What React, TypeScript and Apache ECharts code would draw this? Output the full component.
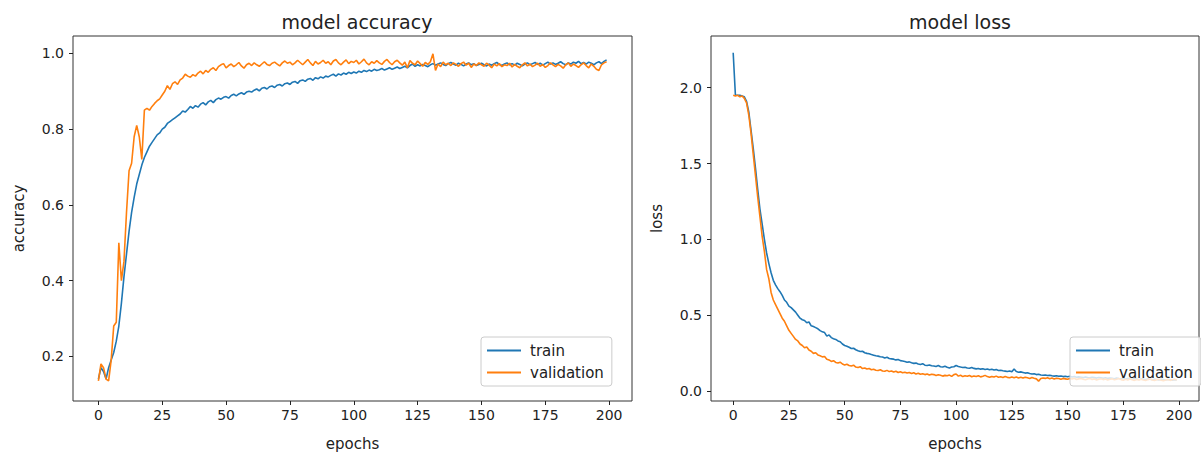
import React, { useEffect, useRef } from "react";
import * as echarts from "echarts";

const seriesNames = ["train", "validation"];
const xTicks = [0, 25, 50, 75, 100, 125, 150, 175, 200];
const accTicks = [0.2, 0.4, 0.6, 0.8, 1.0];
const lossTicks = [0.0, 0.5, 1.0, 1.5, 2.0];

const trainAcc = [
  0.14, 0.17, 0.16, 0.14, 0.17, 0.19, 0.21, 0.24, 0.28, 0.34,
  0.41, 0.47, 0.53, 0.58, 0.62, 0.655, 0.68, 0.705, 0.725, 0.74,
  0.755, 0.765, 0.775, 0.785, 0.79, 0.8, 0.805, 0.815, 0.82, 0.825,
  0.83, 0.835, 0.84, 0.848, 0.845, 0.852, 0.86, 0.855, 0.862, 0.858,
  0.866, 0.87, 0.864, 0.872, 0.876, 0.87, 0.878, 0.882, 0.879, 0.884,
  0.886, 0.882, 0.889, 0.892, 0.888, 0.893, 0.896, 0.892, 0.898, 0.9,
  0.898, 0.903, 0.906, 0.901, 0.908, 0.91, 0.906, 0.912, 0.914, 0.91,
  0.916, 0.918, 0.914, 0.92, 0.922, 0.918, 0.924, 0.926, 0.921, 0.928,
  0.93, 0.926, 0.932, 0.934, 0.929, 0.936, 0.933, 0.938, 0.935, 0.94,
  0.938, 0.942, 0.945, 0.94, 0.946, 0.943, 0.948, 0.945, 0.95, 0.947,
  0.951, 0.948, 0.953, 0.95, 0.955, 0.952, 0.956, 0.953, 0.958, 0.955,
  0.957, 0.96, 0.956, 0.959, 0.962, 0.958, 0.961, 0.964, 0.96, 0.963,
  0.966, 0.962, 0.968, 0.972, 0.966, 0.97, 0.967, 0.971, 0.968, 0.965,
  0.97, 0.973, 0.969, 0.972, 0.975, 0.971, 0.968, 0.973, 0.976, 0.972,
  0.969, 0.974, 0.971, 0.967, 0.972, 0.975, 0.97, 0.973, 0.968, 0.971,
  0.974, 0.97, 0.967, 0.972, 0.969, 0.973, 0.976, 0.971, 0.968, 0.972,
  0.975, 0.97, 0.973, 0.969, 0.974, 0.971, 0.967, 0.972, 0.975, 0.97,
  0.973, 0.976, 0.971, 0.974, 0.969, 0.973, 0.977, 0.972, 0.975, 0.971,
  0.974, 0.978, 0.973, 0.97, 0.975, 0.972, 0.977, 0.974, 0.979, 0.973,
  0.976, 0.972, 0.977, 0.974, 0.97, 0.975, 0.978, 0.973, 0.979, 0.983,
];

const valAcc = [
  0.135, 0.18, 0.17, 0.14, 0.135, 0.19, 0.28, 0.29, 0.5, 0.4,
  0.45, 0.58, 0.69, 0.71, 0.78, 0.81, 0.78, 0.72, 0.85, 0.855,
  0.85, 0.86, 0.868, 0.875, 0.88, 0.89, 0.9, 0.915, 0.905, 0.92,
  0.925, 0.918, 0.93, 0.935, 0.945, 0.94, 0.937, 0.944, 0.94, 0.948,
  0.953, 0.946, 0.955, 0.95, 0.958, 0.962, 0.955, 0.965, 0.97, 0.973,
  0.962, 0.968, 0.972, 0.965, 0.97, 0.976, 0.967, 0.961, 0.97, 0.974,
  0.968, 0.975, 0.97, 0.966, 0.972, 0.978, 0.971, 0.968, 0.974, 0.977,
  0.972, 0.967, 0.975, 0.98, 0.974, 0.977, 0.97, 0.975, 0.982, 0.976,
  0.97, 0.977, 0.984, 0.975, 0.968, 0.979, 0.972, 0.976, 0.982, 0.974,
  0.978, 0.97, 0.98, 0.984, 0.975, 0.97, 0.977, 0.983, 0.973, 0.979,
  0.976, 0.982, 0.972, 0.978, 0.985, 0.975, 0.97, 0.978, 0.974, 0.981,
  0.975, 0.971, 0.979, 0.984, 0.976, 0.97, 0.978, 0.982, 0.975, 0.969,
  0.977, 0.962, 0.981, 0.974, 0.97, 0.98, 0.973, 0.966, 0.976, 0.971,
  0.978, 0.999, 0.955, 0.972, 0.965, 0.977, 0.97, 0.974, 0.968, 0.975,
  0.971, 0.966, 0.973, 0.977, 0.969, 0.974, 0.963, 0.972, 0.968, 0.975,
  0.97, 0.966, 0.974, 0.969, 0.962, 0.972, 0.967, 0.973, 0.965, 0.97,
  0.968, 0.974, 0.964, 0.971, 0.966, 0.962, 0.97, 0.975, 0.967, 0.972,
  0.965, 0.969, 0.974, 0.966, 0.971, 0.963, 0.968, 0.975, 0.97, 0.965,
  0.971, 0.967, 0.961, 0.97, 0.975, 0.966, 0.972, 0.968, 0.963, 0.97,
  0.975, 0.968, 0.962, 0.972, 0.966, 0.958, 0.955, 0.97, 0.975, 0.978,
];

const trainLoss = [
  2.23, 1.95, 1.95, 1.95, 1.945, 1.94, 1.91, 1.84, 1.72, 1.6,
  1.47, 1.33, 1.2, 1.1, 1.0, 0.91, 0.84, 0.78, 0.73, 0.7,
  0.675, 0.655, 0.63, 0.6, 0.585, 0.56, 0.55, 0.535, 0.52, 0.5,
  0.48, 0.47, 0.465, 0.45, 0.455, 0.43, 0.425, 0.418, 0.41, 0.398,
  0.39, 0.385, 0.362, 0.37, 0.352, 0.345, 0.34, 0.33, 0.325, 0.31,
  0.3, 0.295, 0.288, 0.28, 0.282, 0.272, 0.265, 0.26, 0.262, 0.252,
  0.248, 0.245, 0.24, 0.236, 0.232, 0.23, 0.226, 0.224, 0.218, 0.222,
  0.214, 0.212, 0.21, 0.205, 0.208, 0.2, 0.198, 0.195, 0.19, 0.192,
  0.186, 0.182, 0.184, 0.178, 0.175, 0.18, 0.17, 0.168, 0.172, 0.166,
  0.165, 0.162, 0.168, 0.16, 0.158, 0.163, 0.156, 0.152, 0.158, 0.16,
  0.168, 0.162, 0.158, 0.155, 0.157, 0.152, 0.15, 0.155, 0.149, 0.146,
  0.148, 0.144, 0.147, 0.142, 0.145, 0.14, 0.143, 0.138, 0.141, 0.135,
  0.137, 0.133, 0.131, 0.128, 0.132, 0.127, 0.145, 0.128, 0.124, 0.126,
  0.122, 0.118, 0.12, 0.115, 0.112, 0.113, 0.108, 0.11, 0.105, 0.104,
  0.106, 0.102, 0.104, 0.1, 0.098, 0.101, 0.097, 0.099, 0.095, 0.097,
  0.094, 0.097, 0.092, 0.095, 0.09, 0.093, 0.091, 0.088, 0.092, 0.089,
  0.087, 0.091, 0.088, 0.085, 0.089, 0.087, 0.084, 0.088, 0.083, 0.086,
  0.084, 0.081, 0.085, 0.082, 0.08, 0.084, 0.079, 0.083, 0.08, 0.078,
  0.082, 0.079, 0.076, 0.08, 0.078, 0.075, 0.079, 0.077, 0.074, 0.078,
  0.076, 0.073, 0.077, 0.075, 0.072, 0.076, 0.074, 0.071, 0.075, 0.072,
];

const valLoss = [
  1.95, 1.945, 1.95, 1.94, 1.945, 1.93, 1.9, 1.82, 1.7, 1.56,
  1.42, 1.28, 1.15, 1.02, 0.92, 0.8, 0.74, 0.65, 0.6, 0.57,
  0.54, 0.51, 0.48, 0.46, 0.43, 0.4, 0.38, 0.36, 0.34, 0.33,
  0.31, 0.3, 0.285, 0.29, 0.27, 0.262, 0.248, 0.252, 0.238, 0.232,
  0.225, 0.228, 0.21, 0.205, 0.195, 0.2, 0.188, 0.185, 0.19, 0.178,
  0.172, 0.176, 0.168, 0.165, 0.17, 0.158, 0.155, 0.16, 0.148, 0.152,
  0.145, 0.148, 0.14, 0.143, 0.137, 0.135, 0.14, 0.132, 0.13, 0.136,
  0.128, 0.132, 0.125, 0.13, 0.122, 0.127, 0.12, 0.124, 0.118, 0.122,
  0.115, 0.12, 0.112, 0.117, 0.11, 0.114, 0.108, 0.112, 0.105, 0.11,
  0.108, 0.102, 0.107, 0.104, 0.098, 0.103, 0.1, 0.105, 0.096, 0.108,
  0.112, 0.098, 0.104, 0.095, 0.1, 0.097, 0.102, 0.094, 0.099, 0.096,
  0.101, 0.093, 0.097, 0.103, 0.095, 0.09, 0.096, 0.092, 0.098, 0.091,
  0.094, 0.089, 0.095, 0.09, 0.087, 0.093, 0.088, 0.092, 0.086, 0.09,
  0.085, 0.091, 0.087, 0.083, 0.089, 0.084, 0.08, 0.065, 0.082, 0.086,
  0.083, 0.087, 0.081, 0.085, 0.079, 0.084, 0.082, 0.078, 0.083, 0.08,
  0.077, 0.082, 0.079, 0.084, 0.076, 0.08, 0.083, 0.078, 0.074, 0.079,
  0.082, 0.076, 0.08, 0.073, 0.078, 0.081, 0.075, 0.079, 0.072, 0.077,
  0.08, 0.074, 0.078, 0.082, 0.075, 0.071, 0.077, 0.073, 0.079, 0.074,
  0.07, 0.076, 0.073, 0.078, 0.072, 0.069, 0.075, 0.079, 0.073, 0.07,
  0.074, 0.077, 0.071, 0.068, 0.073, 0.076, 0.07, 0.074, 0.078, 0.072,
];

const FONT = "DejaVu Sans";
const BLUE = "#1f77b4";
const ORANGE = "#ff7f0e";

function pairs(arr: number[]) {
  return arr.map((v, i) => [i, v]);
}

export default function App() {
  const ref = useRef<HTMLDivElement>(null);
  useEffect(() => {
    document.body.style.margin = "0";
    if (!ref.current) return;
    const chart = echarts.init(ref.current, null, { renderer: "svg" });

    const tickLabel = { color: "#222", fontFamily: FONT, fontSize: 14 };
    const nameStyle = { color: "#222", fontFamily: FONT, fontSize: 15 };
    const tickStyle = (values: number[]) => ({
      show: true,
      inside: false,
      length: 4,
      lineStyle: { color: "#222", width: 1 },
      customValues: values,
    });

    const xAxisBase = (gridIndex: number) => ({
      type: "value",
      gridIndex,
      min: -9.95,
      max: 208.95,
      axisLine: { show: false, onZero: false },
      splitLine: { show: false },
      axisTick: tickStyle(xTicks),
      axisLabel: { ...tickLabel, margin: 7, customValues: xTicks },
      name: "epochs",
      nameLocation: "middle",
      nameGap: 35,
      nameTextStyle: nameStyle,
    });

    const yAxisBase = (
      gridIndex: number,
      min: number,
      max: number,
      ticks: number[],
      name: string
    ) => ({
      type: "value",
      gridIndex,
      min,
      max,
      axisLine: { show: false, onZero: false },
      splitLine: { show: false },
      axisTick: tickStyle(ticks),
      axisLabel: {
        ...tickLabel,
        margin: 9,
        customValues: ticks,
        formatter: (v: number) => v.toFixed(1),
      },
      name,
      nameLocation: "middle",
      nameGap: 47,
      nameRotate: 90,
      nameTextStyle: nameStyle,
    });

    const legendBase = (left: number) => ({
      orient: "vertical",
      left,
      top: 337,
      data: seriesNames,
      icon: "rect",
      itemWidth: 34,
      itemHeight: 2,
      itemGap: 7,
      padding: [6, 8, 6, 6],
      backgroundColor: "rgba(255,255,255,0.8)",
      borderColor: "#cccccc",
      borderWidth: 1,
      borderRadius: 3,
      textStyle: { color: "#222", fontFamily: FONT, fontSize: 15, padding: [0, 0, 0, 4] },
    });

    const lineSeries = (
      name: string,
      data: number[],
      color: string,
      idx: number
    ) => ({
      type: "line",
      name,
      xAxisIndex: idx,
      yAxisIndex: idx,
      data: pairs(data),
      showSymbol: false,
      symbol: "none",
      color,
      itemStyle: { color },
      lineStyle: { color, width: 1.6 },
    });

    const titleStyle = { color: "#222", fontFamily: FONT, fontSize: 19, fontWeight: "normal" };

    chart.setOption({
      animation: false,
      backgroundColor: "#ffffff",
      title: [
        { text: "model accuracy", left: 352, top: 7, textAlign: "center", textStyle: titleStyle },
        { text: "model loss", left: 955, top: 7, textAlign: "center", textStyle: titleStyle },
      ],
      grid: [
        { left: 73, top: 36, width: 559, height: 365, show: true, borderColor: "#333", borderWidth: 1, backgroundColor: "transparent" },
        { left: 711, top: 36, width: 488, height: 365, show: true, borderColor: "#333", borderWidth: 1, backgroundColor: "transparent" },
      ],
      xAxis: [xAxisBase(0), xAxisBase(1)],
      yAxis: [
        yAxisBase(0, 0.082, 1.046, accTicks, "accuracy"),
        yAxisBase(1, -0.066, 2.341, lossTicks, "loss"),
      ],
      legend: [legendBase(481), legendBase(1070)],
      series: [
        lineSeries(seriesNames[0], trainAcc, BLUE, 0),
        lineSeries(seriesNames[1], valAcc, ORANGE, 0),
        lineSeries(seriesNames[0], trainLoss, BLUE, 1),
        lineSeries(seriesNames[1], valLoss, ORANGE, 1),
      ],
    });

    return () => {
      chart.dispose();
    };
  }, []);

  return <div ref={ref} style={{ width: 1201, height: 460 }} />;
}
